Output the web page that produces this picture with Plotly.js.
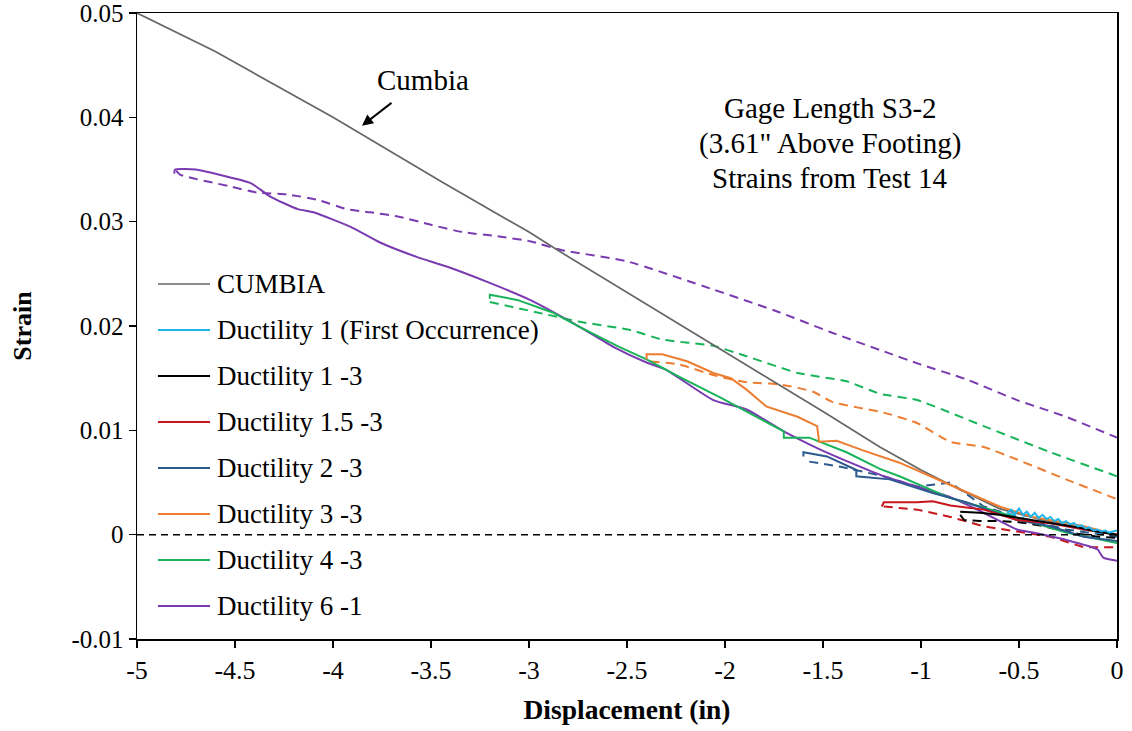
<!DOCTYPE html>
<html>
<head>
<meta charset="utf-8">
<script src="https://cdn.plot.ly/plotly-3.0.1.min.js"></script>
<style>html,body{margin:0;padding:0;background:#fff;}#chart{width:1132px;height:731px;}</style>
</head>
<body>
<div id="chart"></div>
<script>
// ---- data ----
const cumbiaX = [-5, -4.6, -4.0, -3.444, -3.0, -2.857, -2.0, -1.5, -1.21, -1.0, -0.8, -0.6, -0.4, -0.2, 0];
const cumbiaY = [0.05, 0.0463, 0.0400, 0.0338, 0.0290, 0.0273, 0.0175, 0.0118, 0.0084, 0.0062, 0.0043, 0.0025, 0.0015, 0.0007, 0];

const d1X = [-0.56,-0.54,-0.52,-0.5,-0.48,-0.46,-0.44,-0.42,-0.4,-0.38,-0.36,-0.34,-0.32,-0.3,-0.28,-0.26,-0.24,-0.22,-0.2,-0.18,-0.16,-0.14,-0.12,-0.1,-0.08,-0.06,-0.04,-0.02,0];
const d1Y = [0.0021,0.0024,0.0020,0.0025,0.0019,0.0022,0.0017,0.0021,0.0016,0.0019,0.0015,0.0017,0.0013,0.0015,0.0011,0.0013,0.0010,0.0011,0.0008,0.0009,0.0006,0.0007,0.0004,0.0005,0.0003,0.0004,0.0002,0.0003,0.0004];
const d1dX = [-0.56,-0.5,-0.45,-0.4,-0.35,-0.3,-0.25,-0.2,-0.15,-0.1,-0.05,0];
const d1dY = [0.0020,0.0019,0.0018,0.0015,0.0013,0.0011,0.0008,0.0006,0.0004,0.0002,0.0001,0.0000];

const d13X = [-0.8,-0.7,-0.6,-0.5,-0.4,-0.3,-0.2,-0.1,0];
const d13Y = [0.0022,0.0021,0.0019,0.0016,0.0013,0.0010,0.0007,0.0003,0.0000];
const d13dX = [-0.8,-0.78,-0.7,-0.6,-0.5,-0.4,-0.3,-0.2,-0.1,0];
const d13dY = [0.0019,0.0014,0.0013,0.0013,0.0012,0.0009,0.0005,0.0001,-0.0002,-0.0003];

const d15X = [-1.2,-1.19,-1.02,-0.94,-0.85,-0.68,-0.51,-0.34,-0.17,0];
const d15Y = [0.0027,0.0031,0.0031,0.0032,0.0028,0.0024,0.0014,0.0011,0.0005,0.0000];
const d15dX = [-1.19,-1.02,-0.85,-0.68,-0.51,-0.34,-0.17,0];
const d15dY = [0.0027,0.0024,0.0017,0.0008,0.0003,-0.0002,-0.0012,-0.0012];

const d2X = [-1.6,-1.6,-1.48,-1.33,-1.33,-1.16,-0.94,-0.77,-0.51,-0.34,-0.17,0];
const d2Y = [0.0075,0.0079,0.0075,0.0062,0.0056,0.0053,0.0040,0.0031,0.0014,0.0008,-0.0002,-0.0006];
const d2dX = [-1.57,-1.41,-1.19,-1.02,-0.85,-0.68,-0.51,-0.26,0];
const d2dY = [0.0070,0.0065,0.0056,0.0046,0.0050,0.0027,0.0017,0.0005,-0.0002];

const d3X = [-2.4,-2.4,-2.32,-2.19,-2.06,-1.97,-1.89,-1.79,-1.63,-1.53,-1.52,-1.43,-1.30,-1.21,-1.11,-0.94,-0.77,-0.60,-0.43,-0.17,0];
const d3Y = [0.0168,0.0173,0.0173,0.0166,0.0155,0.0150,0.0139,0.0123,0.0113,0.0104,0.0089,0.0090,0.0081,0.0075,0.0069,0.0055,0.0041,0.0027,0.0017,0.0008,0.0000];
const d3dX = [-2.38,-2.23,-2.06,-1.89,-1.72,-1.55,-1.45,-1.19,-1.02,-0.85,-0.68,-0.51,-0.26,0];
const d3dY = [0.0166,0.0163,0.0153,0.0146,0.0144,0.0137,0.0127,0.0117,0.0107,0.0089,0.0084,0.0072,0.0053,0.0034];

const d4X = [-3.2,-3.2,-3.06,-2.88,-2.74,-2.54,-2.40,-2.23,-2.03,-1.81,-1.70,-1.70,-1.57,-1.38,-1.21,-1.11,-0.85,-0.68,-0.43,-0.26,0];
const d4Y = [0.0226,0.0230,0.0225,0.0213,0.0199,0.0180,0.0168,0.0151,0.0132,0.0110,0.0099,0.0093,0.0093,0.0079,0.0063,0.0056,0.0035,0.0026,0.0012,0.0002,-0.0008];
const d4dX = [-3.2,-2.91,-2.74,-2.48,-2.32,-2.06,-1.89,-1.63,-1.38,-1.21,-1.02,-0.68,-0.34,0];
const d4dY = [0.0223,0.0211,0.0204,0.0196,0.0187,0.0181,0.0171,0.0155,0.0147,0.0135,0.0129,0.0104,0.0079,0.0056];

const d6X = [-4.81,-4.806,-4.70,-4.58,-4.42,-4.32,-4.18,-4.10,-3.91,-3.76,-3.57,-3.42,-3.21,-2.995,-2.74,-2.57,-2.40,-2.30,-2.06,-1.89,-1.70,-1.53,-1.36,-1.19,-0.85,-0.68,-0.51,-0.43,-0.26,-0.10,-0.07,0];
const d6Y = [0.0346,0.0350,0.0350,0.0345,0.0337,0.0324,0.0312,0.0309,0.0295,0.0280,0.0266,0.0257,0.0242,0.0225,0.0199,0.0180,0.0165,0.0158,0.0129,0.0120,0.0099,0.0083,0.0069,0.0056,0.0036,0.0021,0.0005,0.0002,-0.0005,-0.0014,-0.0022,-0.0025];
const d6dX = [-4.80,-4.78,-4.53,-4.39,-4.23,-4.08,-3.93,-3.81,-3.67,-3.50,-3.34,-3.16,-2.99,-2.84,-2.5,-2.06,-1.72,-1.46,-1.21,-1.0,-0.77,-0.51,-0.26,0];
const d6dY = [0.0349,0.0345,0.0334,0.0328,0.0326,0.0321,0.0312,0.0309,0.0305,0.0297,0.0290,0.0286,0.0281,0.0273,0.0262,0.0235,0.0213,0.0194,0.0177,0.0163,0.0149,0.0129,0.0113,0.0093];

const legendNames = ["CUMBIA","Ductility 1 (First Occurrence)","Ductility 1 -3","Ductility 1.5 -3","Ductility 2 -3","Ductility 3 -3","Ductility 4 -3","Ductility 6 -1"];
const legendColors = ["#666666","#1fb4ea","#000000","#c8161d","#2c5a8f","#ed7d31","#19b45a","#7a3bb0"];
const xTicks = [-5,-4.5,-4,-3.5,-3,-2.5,-2,-1.5,-1,-0.5,0];
const yTicks = [-0.01,0,0.01,0.02,0.03,0.04,0.05];

// ---- traces ----
const DASH = "9px,6px";
function tr(x, y, color, dash, w, smooth) {
  return {x: x, y: y, type: "scatter", mode: "lines", showlegend: false, hoverinfo: "skip",
          line: {color: color, width: w || 2, dash: dash || "solid",
                 shape: smooth ? "spline" : "linear", smoothing: smooth ? 0.5 : undefined}};
}
const C = legendColors;
const traces = [
  tr(d6dX, d6dY, C[7], DASH, 2, true), tr(d4dX, d4dY, C[6], DASH, 2, true), tr(d3dX, d3dY, C[5], DASH, 2, true),
  tr(d2dX, d2dY, C[4], DASH), tr(d15dX, d15dY, C[3], DASH), tr(d13dX, d13dY, C[2], DASH),
  tr(d1dX, d1dY, C[1], DASH),
  tr(cumbiaX, cumbiaY, C[0], "solid", 1.7),
  tr(d6X, d6Y, C[7], "solid", 2, true), tr(d4X, d4Y, C[6]), tr(d3X, d3Y, C[5]), tr(d2X, d2Y, C[4]),
  tr(d15X, d15Y, C[3]), tr(d13X, d13Y, C[2]), tr(d1X, d1Y, C[1])
];

// ---- manual legend (paper coords) ----
const FONT = "Liberation Serif";
const shapes = [{type: "line", xref: "paper", x0: 0, x1: 1, yref: "y", y0: 0, y1: 0,
                 line: {color: "#000", width: 1.5, dash: "7px,5px"}}];
const annotations = [];
const legTop = 1 - (284 - 13) / 626, legStep = 46 / 626;
legendNames.forEach((n, i) => {
  const yy = legTop - i * legStep;
  shapes.push({type: "line", xref: "paper", yref: "paper", x0: 0.0214, x1: 0.0745, y0: yy, y1: yy,
               line: {color: legendColors[i], width: i === 0 ? 1.7 : 2}});
  annotations.push({xref: "paper", yref: "paper", x: 0.0795, y: yy, xanchor: "left", yanchor: "middle",
                    text: n, showarrow: false, font: {family: FONT, size: 27, color: "#000"}});
});

// text annotations
const gageLines = ["Gage Length S3-2", "(3.61\" Above Footing)", "Strains from Test 14"];
const gageY = [0.0409, 0.0375, 0.0342];
gageLines.forEach((t, i) => annotations.push({x: -1.464, y: gageY[i], xref: "x", yref: "y", text: t,
  showarrow: false, xanchor: "center", yanchor: "middle", font: {family: FONT, size: 29, color: "#000"}}));
annotations.push({x: -3.541, y: 0.0436, xref: "x", yref: "y", text: "Cumbia", showarrow: false,
  font: {family: FONT, size: 29, color: "#000"}});
annotations.push({x: -3.852, y: 0.0392, ax: -3.694, ay: 0.0415, axref: "x", ayref: "y", xref: "x", yref: "y",
  text: "", showarrow: true, arrowhead: 2, arrowsize: 1.1, arrowwidth: 2, arrowcolor: "#000"});

const layout = {
  width: 1132, height: 731,
  margin: {l: 137, r: 15, t: 13, b: 92, pad: 0},
  paper_bgcolor: "#fff", plot_bgcolor: "#fff",
  showlegend: false,
  font: {family: FONT, color: "#000"},
  xaxis: {range: [-5, 0], tickvals: xTicks, ticktext: xTicks.map(String), showgrid: false, zeroline: false,
          showline: true, mirror: true, linecolor: "#000", linewidth: 1.5,
          ticks: "outside", ticklen: 7, tickwidth: 1.5, tickcolor: "#000", ticklabeloverflow: "allow",
          tickfont: {family: FONT, size: 26},
          title: {text: "<b>Displacement (in)</b>", font: {family: FONT, size: 27.5}, standoff: 16}},
  yaxis: {range: [-0.0100001, 0.0500001], tickvals: yTicks, ticktext: yTicks.map(String), showgrid: false, zeroline: false,
          showline: true, mirror: true, linecolor: "#000", linewidth: 1.5,
          ticks: "outside", ticklen: 7, tickwidth: 1.5, tickcolor: "#000", ticklabeloverflow: "allow",
          tickfont: {family: FONT, size: 25},
          title: {text: "<b>Strain</b>", font: {family: FONT, size: 26}, standoff: 32}},
  shapes: shapes,
  annotations: annotations
};
Plotly.newPlot("chart", traces, layout, {displayModeBar: false, staticPlot: true});
</script>
</body>
</html>
